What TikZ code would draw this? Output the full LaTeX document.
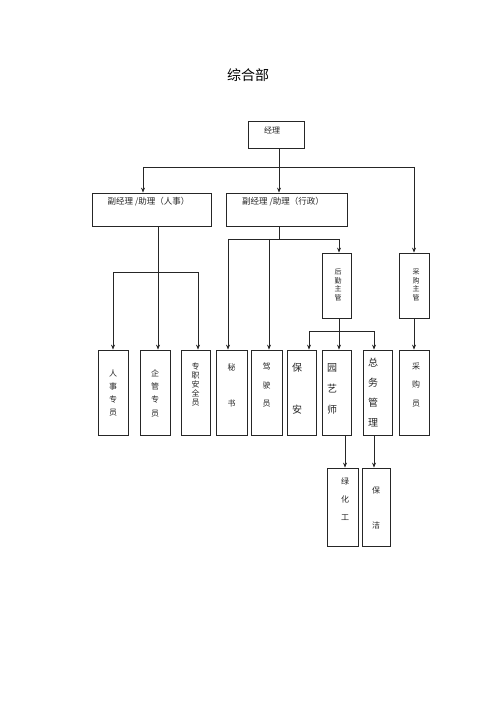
\documentclass[tikz,border=0pt]{standalone}
\usepackage{fontspec}
\setmainfont{Noto Sans CJK SC}
\usetikzlibrary{arrows.meta}
\tikzset{
  x=1pt, y=-1pt,
  box/.style={draw=black!85, line width=0.8pt, inner sep=0pt, fill=white},
  lbl/.style={inner sep=0pt, align=center, text=black!85},
  ln/.style={draw=black!85, line width=0.7pt},
  arr/.style={ln, -{Stealth[length=5pt,width=4pt]}}
}
\newcommand{\fs}[2]{\fontsize{#1}{#2}\selectfont}
\begin{document}
\begin{tikzpicture}
\useasboundingbox (0,0) rectangle (500,708);
% title
\node[lbl, font=\fs{14}{16}, text=black] (title) at (248,75) {综合部};
% boxes
\node[box, minimum width=56pt, minimum height=27pt] (jl) at (276,134.5) {};
\node[box, minimum width=119pt, minimum height=33pt] (fr) at (151.5,209.5) {};
\node[box, minimum width=121pt, minimum height=33pt] (fx) at (286.5,209.5) {};
\node[box, minimum width=29pt, minimum height=65pt] (hq) at (336.5,285.5) {};
\node[box, minimum width=30pt, minimum height=65pt] (cgz) at (414,285.5) {};
\node[box, minimum width=30pt, minimum height=85pt] (rs) at (113,392.5) {};
\node[box, minimum width=30pt, minimum height=85pt] (qg) at (155,392.5) {};
\node[box, minimum width=29pt, minimum height=85pt] (aq) at (195.5,392.5) {};
\node[box, minimum width=31pt, minimum height=85pt] (ms) at (231.5,392.5) {};
\node[box, minimum width=31pt, minimum height=85pt] (js) at (266.5,392.5) {};
\node[box, minimum width=29pt, minimum height=85pt] (ba) at (301.5,392.5) {};
\node[box, minimum width=29pt, minimum height=85pt] (yy) at (336.5,392.5) {};
\node[box, minimum width=29pt, minimum height=85pt] (zw) at (377.5,392.5) {};
\node[box, minimum width=30pt, minimum height=85pt] (cgy) at (414,392.5) {};
\node[box, minimum width=31pt, minimum height=78pt] (lh) at (342.5,507) {};
\node[box, minimum width=28pt, minimum height=78pt] (bj) at (376,507) {};
% texts
\node[lbl, font=\fs{8}{9}] (tjl) at (272,130) {经理};
\node[lbl, font=\fs{8.5}{10}] (tfr) at (148.5,202) {副经理 /助理（人事）};
\node[lbl, font=\fs{8.5}{10}] (tfx) at (283,202) {副经理 /助理（行政）};
\node[lbl, font=\fs{7}{8.7}] (thq) at (338,285) {后\\勤\\主\\管};
\node[lbl, font=\fs{7}{8.7}] (tcgz) at (416,285) {采\\购\\主\\管};
\node[lbl, font=\fs{8}{13.3}] (trs) at (113,393) {人\\事\\专\\员};
\node[lbl, font=\fs{8}{13.3}] (tqg) at (155,393) {企\\管\\专\\员};
\node[lbl, font=\fs{8}{9.2}] (taq) at (195.5,384.5) {专\\职\\安\\全\\员};
\node[lbl, font=\fs{8}{36}] (tms) at (231.5,385) {秘\\书};
\node[lbl, font=\fs{8}{18.5}] (tjs) at (266.5,385) {驾\\驶\\员};
\node[lbl, font=\fs{10}{42}] (tba) at (297,389) {保\\安};
\node[lbl, font=\fs{10}{21}] (tyy) at (332,389) {园\\艺\\师};
\node[lbl, font=\fs{10}{20}] (tzw) at (373,393) {总\\务\\管\\理};
\node[lbl, font=\fs{8}{18.5}] (tcgy) at (416,385) {采\\购\\员};
\node[lbl, font=\fs{8}{18}] (tlh) at (345,499) {绿\\化\\工};
\node[lbl, font=\fs{8}{35}] (tbj) at (376,507.5) {保\\洁};
% bus coordinates
\coordinate (b1) at (279,167);
\coordinate (b1l) at (143,167);
\coordinate (b1r) at (414,167);
\coordinate (b2) at (158,272);
\coordinate (b2l) at (113,272);
\coordinate (b2r) at (198,272);
\coordinate (b3) at (279,239);
\coordinate (b3l) at (228,239);
\coordinate (b3m) at (269,239);
\coordinate (b3r) at (339,239);
\coordinate (b4) at (339,331);
\coordinate (b4l) at (309,331);
\coordinate (b4r) at (374,331);
% level 1
\draw[ln] (jl.south -| b1) -- (b1);
\draw[ln] (b1l) -- (b1r);
\draw[arr] (b1) -- (b1 |- fx.north);
\draw[arr] (b1l) -- (b1l |- fr.north);
\draw[arr] (b1r) -- (cgz.north);
% personnel
\draw[arr] (fr.south -| b2) -- (b2 |- qg.north);
\draw[ln] (b2l) -- (b2r);
\draw[arr] (b2l) -- (rs.north);
\draw[arr] (b2r) -- (b2r |- aq.north);
% admin
\draw[ln] (fx.south -| b3) -- (b3);
\draw[ln] (b3l) -- (b3r);
\draw[arr] (b3l) -- (b3l |- ms.north);
\draw[arr] (b3m) -- (b3m |- js.north);
\draw[arr] (b3r) -- (b3r |- hq.north);
% logistics
\draw[arr] (hq.south -| b4) -- (b4 |- yy.north);
\draw[ln] (b4l) -- (b4r);
\draw[arr] (b4l) -- (b4l |- ba.north);
\draw[arr] (b4r) -- (b4r |- zw.north);
% purchasing
\draw[arr] (cgz.south) -- (cgy.north);
% bottom
\draw[arr] ([xshift=8.5pt]yy.south) -- ([xshift=8.5pt]yy.south |- lh.north);
\draw[arr] (zw.south -| b4r) -- (b4r |- bj.north);
\end{tikzpicture}
\end{document}
